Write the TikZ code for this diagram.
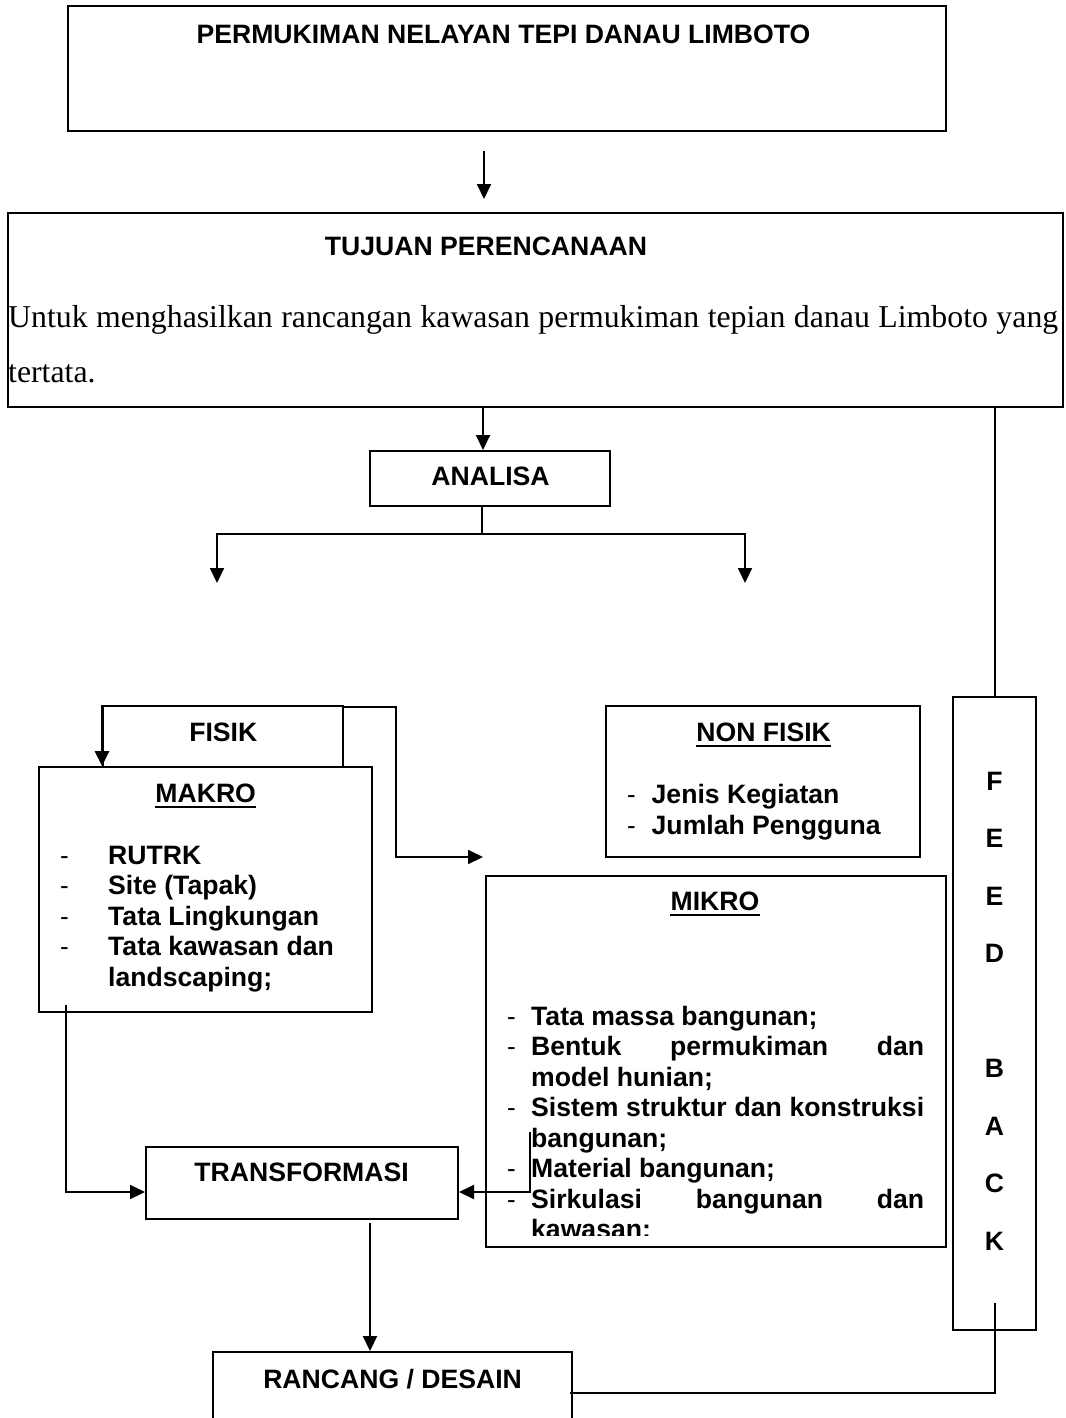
\documentclass[tikz,border=0pt]{standalone}
\usepackage{fontspec}
\setmainfont{Liberation Serif}
\setsansfont{Liberation Sans}
\usetikzlibrary{arrows.meta}
\newcommand\mybf{\fontsize{26.6}{30}\selectfont\sffamily\bfseries}
\newcommand\mydash{\fontsize{26}{30}\selectfont\sffamily}
\newcommand\myserif{\fontsize{31.8}{36}\selectfont\rmfamily}
\tikzset{
  box/.style={draw, line width=2pt, inner sep=0pt, fill=white},
  lbl/.style={inner sep=0pt, anchor=base, font=\mybf},
  itm/.style={inner sep=0pt, anchor=base west, font=\mybf},
  dsh/.style={inner sep=0pt, anchor=base west, font=\mydash},
  ln/.style={line width=2pt},
  arr/.style={line width=2pt, -{Triangle[length=15pt,width=14pt]}},
  ul/.style={line width=2pt}
}
\begin{document}
\begin{tikzpicture}[x=1pt,y=-1pt]
\useasboundingbox (0,0) rectangle (1065,1418);
% boxes
\node[box, minimum width=878pt, minimum height=125pt] (b1) at (507,68.5) {};
\node[box, minimum width=1055pt, minimum height=194pt] (b2) at (535.5,310) {};
\node[box, minimum width=240pt, minimum height=55pt] (ana) at (490,478.5) {};
\node[box, minimum width=240pt, minimum height=61pt] (fis) at (223,736.5) {};
\node[box, minimum width=333pt, minimum height=245pt] (mak) at (205.5,889.5) {};
\node[box, minimum width=314pt, minimum height=151pt] (non) at (763,781.5) {};
\node[box, minimum width=460pt, minimum height=371pt] (mik) at (716,1061.5) {};
\node[box, minimum width=83pt, minimum height=633pt] (fb) at (994.5,1013.5) {};
\node[box, minimum width=312pt, minimum height=72pt] (tra) at (302,1183) {};
\node[box, minimum width=359pt, minimum height=78pt] (ran) at (392.5,1391) {};

% titles
\node[lbl] (t1) at (503.5,43.3) {PERMUKIMAN NELAYAN TEPI DANAU LIMBOTO};
\node[lbl] (t2) at (486,255) {TUJUAN PERENCANAAN};
\node[inner sep=0pt, anchor=base west, font=\myserif] (t2a) at (8,327) {\makebox[1050pt][s]{Untuk menghasilkan rancangan kawasan permukiman tepian danau Limboto yang}};
\node[inner sep=0pt, anchor=base west, font=\myserif] (t2b) at (8,382) {tertata.};
\node[lbl] (tana) at (490.5,485) {ANALISA};
\node[lbl] (tfis) at (223.3,741.7) {FISIK};
\node[lbl] (tmak) at (205.7,802.7) {MAKRO};
\draw[ul] ([yshift=-4pt]tmak.base west) -- ([yshift=-4pt]tmak.base east);
\node[lbl] (tnon) at (763.7,741.7) {NON FISIK};
\draw[ul] ([yshift=-4.5pt]tnon.base west) -- ([yshift=-4.5pt]tnon.base east);
\node[lbl] (tmik) at (715,910.7) {MIKRO};
\draw[ul] ([yshift=-4.5pt]tmik.base west) -- ([yshift=-4.5pt]tmik.base east);
\node[lbl] (ttra) at (301.6,1181.7) {TRANSFORMASI};
\node[lbl] (tran) at (392.6,1388) {RANCANG / DESAIN};

% MAKRO items
\node[dsh] (md1) at (60,864) {-};
\node[itm] (mi1) at (108,864) {RUTRK};
\node[dsh] (md2) at (60,894.5) {-};
\node[itm] (mi2) at (108,894.5) {Site (Tapak)};
\node[dsh] (md3) at (60,925) {-};
\node[itm] (mi3) at (108,925) {Tata Lingkungan};
\node[dsh] (md4) at (60,955.5) {-};
\node[itm] (mi4) at (108,955.5) {Tata kawasan dan};
\node[itm] (mi5) at (108,986) {landscaping;};

% NON FISIK items
\node[dsh] (nd1) at (627,803.3) {-};
\node[itm] (ni1) at (651.5,803.3) {Jenis Kegiatan};
\node[dsh] (nd2) at (627,834.3) {-};
\node[itm] (ni2) at (651.5,834.3) {Jumlah Pengguna};

% MIKRO items (clipped at bottom)
\begin{scope}
\clip (486,876) rectangle (946,1235);
\node[dsh] (kd1) at (507,1025) {-};
\node[itm] (ki1) at (531,1025) {Tata massa bangunan;};
\node[dsh] (kd2) at (507,1055.5) {-};
\node[itm] (ki2) at (531,1055.5) {\makebox[393pt][s]{Bentuk permukiman dan}};
\node[itm] (ki3) at (531,1086) {model hunian;};
\node[dsh] (kd4) at (507,1116.5) {-};
\node[itm] (ki4) at (531,1116.5) {\makebox[393pt][s]{Sistem struktur dan konstruksi}};
\node[itm] (ki5) at (531,1147) {bangunan;};
\node[dsh] (kd6) at (507,1177.5) {-};
\node[itm] (ki6) at (531,1177.5) {Material bangunan;};
\node[dsh] (kd7) at (507,1208) {-};
\node[itm] (ki7) at (531,1208) {\makebox[393pt][s]{Sirkulasi bangunan dan}};
\node[itm] (ki8) at (531,1238.5) {kawasan;};
\end{scope}

% FEEDBACK letters
\foreach \l/\yy [count=\i] in {F/781,E/838.5,E/896,D/953.5,B/1068.5,A/1126,C/1183.5,K/1241}{
  \node[inner sep=0pt, font=\mybf] (fbl\i) at (994.5,\yy) {\l};
}

% connectors
\coordinate (a1s) at ([xshift=-23pt,yshift=-19pt]b1.south);
\draw[arr] (a1s) -- ([yshift=13pt]a1s |- b2.north);
\draw[arr] ([xshift=-7pt]ana.north |- b2.south) -- ([xshift=-7pt]ana.north);
\coordinate (jn) at (482,534);
\coordinate (fisT) at (217,583);
\coordinate (nonT) at (745,583);
\draw[ln] ([xshift=-8pt]ana.south) -- (jn);
\draw[arr] (jn) -| (fisT);
\draw[arr] (jn) -| (nonT);
\draw[arr, line width=3pt] (fis.north west) -- (fis.north west |- mak.north);
\coordinate (mkT) at (483,857);
\draw[arr] ([yshift=-2pt]fis.north east) -- ++(52,0) |- (mkT);
\coordinate (mkb) at (66,1005);
\draw[arr] (mkb) |- ([yshift=-9pt]tra.west);
\coordinate (mib) at (530,1132);
\draw[arr] (mib) |- ([yshift=-9pt]tra.east);
\draw[arr] ([xshift=68pt,yshift=-3pt]tra.south) -- ([xshift=68pt]tra.south |- ran.north);
\draw[ln] (b2.south -| fb.north) -- (fb.north);
\coordinate (fbK) at (995,1303);
\draw[ln] ([xshift=-3pt,yshift=-2pt]ran.east) -| (fbK);
\end{tikzpicture}
\end{document}
